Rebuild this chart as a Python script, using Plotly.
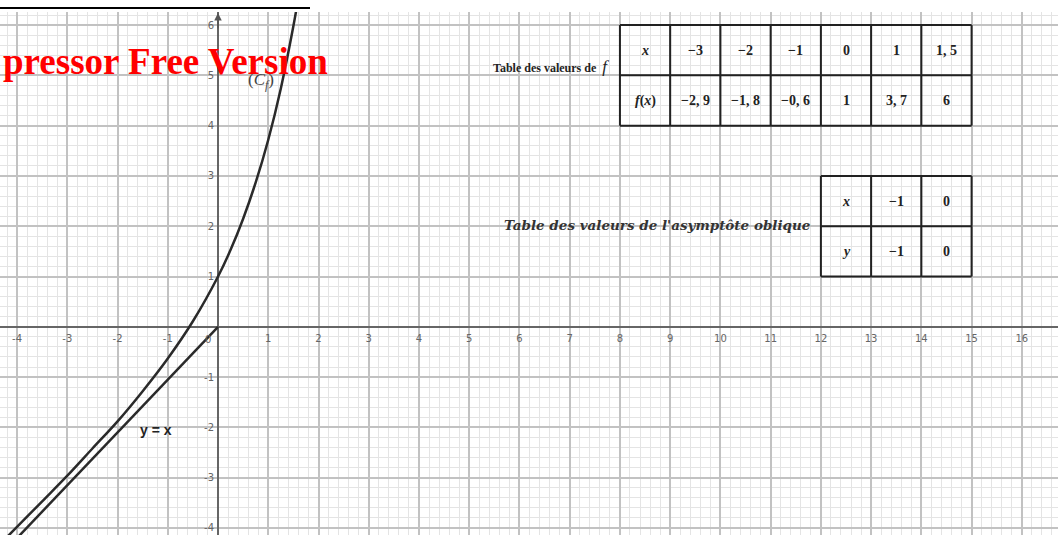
import plotly.graph_objects as go

# courbe (C_f)
curve_x = [-4.35, -4.1, -3.5, -3, -2.5, -2, -1.5, -1, -0.5, 0, 0.25, 0.5, 0.75, 1, 1.25, 1.5, 1.6]
curve_y = [-4.33, -4.08, -3.47, -2.96, -2.42, -1.88, -1.28, -0.63, 0.11, 1, 1.53, 2.15, 2.87, 3.72, 4.74, 5.98, 6.55]

# asymptote oblique telle que tracée (jusqu'à l'origine)
asym_x = [-4.0, -1.93, 0]
asym_y = [-4.2, -2.03, 0]

# tableau des valeurs de f
tab_x = ["<i>x</i>", "−3", "−2", "−1", "0", "1", "1, 5"]
tab_fx = ["<i>f</i>(<i>x</i>)", "−2, 9", "−1, 8", "−0, 6", "1", "3, 7", "6"]

# tableau de l'asymptote
asy_x = ["<i>x</i>", "−1", "0"]
asy_y = ["<i>y</i>", "−1", "0"]

x_ticks = list(range(-4, 17))
y_ticks = list(range(-4, 7))

xmin, xmax = -4.34, 16.72
ymin, ymax = -4.14, 6.26

fig = go.Figure()

fig.add_trace(go.Scatter(x=asym_x, y=asym_y, mode="lines",
                         line=dict(color="#2a2a2a", width=2.5), hoverinfo="skip"))
fig.add_trace(go.Scatter(x=curve_x, y=curve_y, mode="lines", line_shape="spline",
                         line=dict(color="#2a2a2a", width=2.5), hoverinfo="skip"))

serif = "Liberation Serif"
line_style = dict(color="#222222", width=2)


def draw_table(rows, x0, y_top):
    n_cols = len(rows[0])
    n_rows = len(rows)
    for i in range(n_cols + 1):
        fig.add_shape(type="line", x0=x0 + i, x1=x0 + i, y0=y_top, y1=y_top - n_rows,
                      line=line_style)
    for j in range(n_rows + 1):
        fig.add_shape(type="line", x0=x0, x1=x0 + n_cols, y0=y_top - j, y1=y_top - j,
                      line=line_style)
    for j, row in enumerate(rows):
        for i, txt in enumerate(row):
            fig.add_annotation(x=x0 + i + 0.5, y=y_top - j - 0.5, text="<b>" + txt + "</b>",
                               showarrow=False, font=dict(family=serif, size=14, color="#222"))


draw_table([tab_x, tab_fx], 8, 6)
draw_table([asy_x, asy_y], 12, 3)

fig.add_annotation(x=7.82, y=5.18, xanchor="right", showarrow=False,
                   text="<b>Table des valeurs de</b>  <span style='font-size:17px'><i>f</i></span>",
                   font=dict(family=serif, size=12, color="#222"))
fig.add_annotation(x=8.74, y=2.03, showarrow=False,
                   text="<b><i>Table des valeurs de l'asymptôte oblique</i></b>",
                   font=dict(family="DejaVu Serif", size=13.5, color="#333"))
fig.add_annotation(x=-1.24, y=-2.06, showarrow=False, text="<b>y = x</b>",
                   font=dict(family="Liberation Sans", size=14, color="#222"))
fig.add_annotation(x=0.85, y=4.88, showarrow=False, text="(<i>C</i><sub><i>f</i></sub>)",
                   font=dict(family=serif, size=17, color="#444"))
fig.add_annotation(x=-0.2, y=-0.26, showarrow=False, text="0",
                   font=dict(family="DejaVu Sans", size=10, color="#666"))

# flèche de l'axe des ordonnées
fig.add_annotation(x=0, y=6.24, ax=0, ay=5.9, xref="x", yref="y", axref="x", ayref="y",
                   text="", showarrow=True, arrowhead=2, arrowsize=1, arrowwidth=1.5,
                   arrowcolor="#555")

# filigrane
fig.add_annotation(x=330 / 1058, y=5.27, xref="paper", yref="y", showarrow=False,
                   xanchor="right", text="<b>pressor Free Version</b>",
                   font=dict(family=serif, size=37, color="red"))

# trait noir en haut
fig.add_shape(type="line", xref="paper", yref="paper", x0=0, x1=310 / 1058,
              y0=1 + 4 / 523, y1=1 + 4 / 523, line=dict(color="black", width=2))

grid_major = "#c2c2c2"
grid_minor = "#e4e4e4"

fig.update_xaxes(range=[xmin, xmax], tickmode="array", tickvals=x_ticks,
                 ticktext=["" if v == 0 else str(v) for v in x_ticks],
                 showgrid=True, gridcolor=grid_major, gridwidth=1.5,
                 minor=dict(dtick=0.2, tick0=0, showgrid=True, gridcolor=grid_minor, gridwidth=1),
                 zeroline=True, zerolinecolor="#666", zerolinewidth=1.5,
                 anchor="free", position=(0 - ymin) / (ymax - ymin),
                 tickfont=dict(family="DejaVu Sans", size=10, color="#666"),
                 ticklabelstandoff=4,
                 showline=False, ticks="", automargin=False)
fig.update_yaxes(range=[ymin, ymax], tickmode="array", tickvals=y_ticks,
                 ticktext=["" if v == 0 else str(v) for v in y_ticks],
                 showgrid=True, gridcolor=grid_major, gridwidth=1.5,
                 minor=dict(dtick=0.2, tick0=0, showgrid=True, gridcolor=grid_minor, gridwidth=1),
                 zeroline=True, zerolinecolor="#666", zerolinewidth=1.5,
                 anchor="free", position=(0 - xmin) / (xmax - xmin),
                 tickfont=dict(family="DejaVu Sans", size=10, color="#666"),
                 ticklabelstandoff=4,
                 showline=False, ticks="", automargin=False)

fig.update_layout(width=1058, height=535, margin=dict(l=0, r=0, t=12, b=0),
                  plot_bgcolor="white", paper_bgcolor="white", showlegend=False)

fig.write_html("out.html", config={"displayModeBar": False},
               post_script="document.body.style.margin='0';")
